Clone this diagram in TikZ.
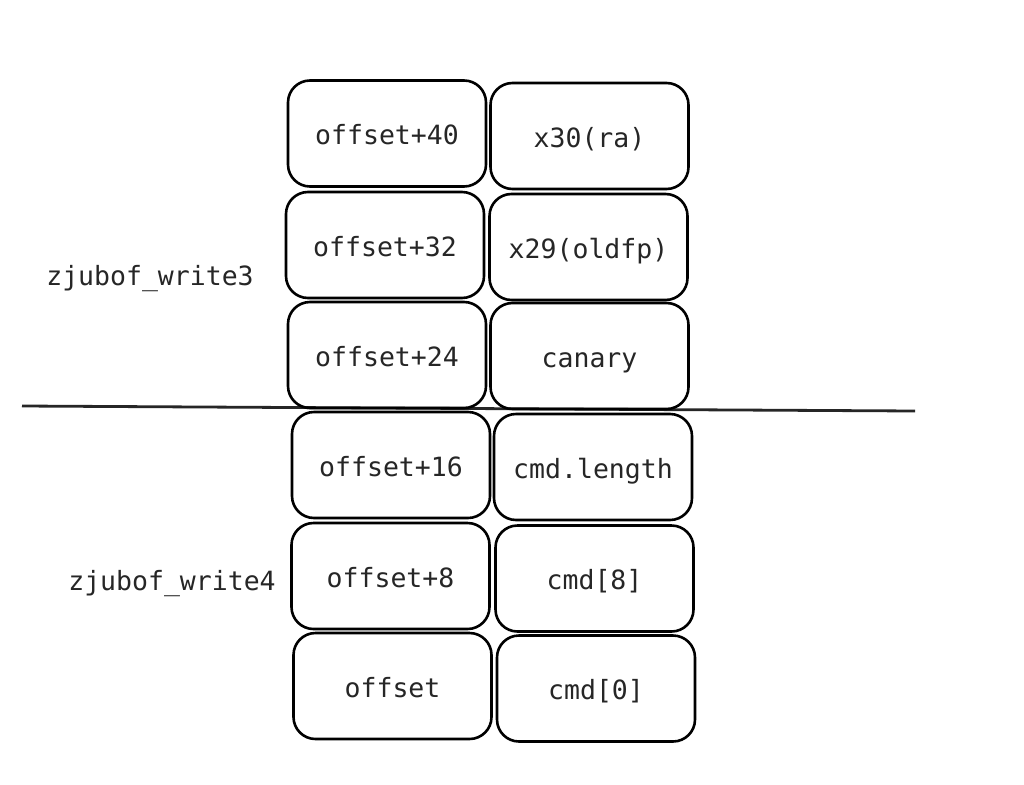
\documentclass[tikz,border=0pt]{standalone}
\usepackage{fontspec}
\setmonofont{DejaVu Sans Mono}
\begin{document}
\begin{tikzpicture}[x=1pt,y=-1pt,
  cell/.style={draw=black, line width=2.6pt, rounded corners=22pt, inner sep=0pt,
    minimum width=198pt, minimum height=106pt, text height=26pt, text depth=4pt,
    font=\ttfamily\fontsize{26.5}{30}\selectfont, text=black!85},
  lbl/.style={font=\ttfamily\fontsize{26.5}{30}\selectfont, text=black!85, inner sep=0pt,
    text height=26pt, text depth=4pt},
  sep/.style={draw=black!85, line width=2.8pt}]
\useasboundingbox (0,0) rectangle (1024,784);
\fill[white] (0,0) rectangle (1024,784);
% separator
\coordinate (sa) at (22,406);
\coordinate (sb) at (915,411);
\draw[sep] (sa) -- (sb);
% left column
\node[cell] (l1) at (387,133.5) {offset+40};
\node[cell] (l2) at (385,245) {offset+32};
\node[cell] (l3) at (387,355) {offset+24};
\node[cell] (l4) at (391,465) {offset+16};
\node[cell] (l5) at (390.5,576) {offset+8};
\node[cell] (l6) at (392.5,686) {offset};
% right column
\node[cell] (r1) at (589.5,136) {x30(ra)};
\node[cell] (r2) at (588.5,247) {x29(oldfp)};
\node[cell] (r3) at (589.5,356) {canary};
\node[cell] (r4) at (593,467) {cmd.length};
\node[cell] (r5) at (594.5,578.5) {cmd[8]};
\node[cell] (r6) at (596,688.5) {cmd[0]};
% labels
\node[lbl] (w3) at (150,274) {zjubof\_write3};
\node[lbl] (w4) at (172,579) {zjubof\_write4};
\end{tikzpicture}
\end{document}
